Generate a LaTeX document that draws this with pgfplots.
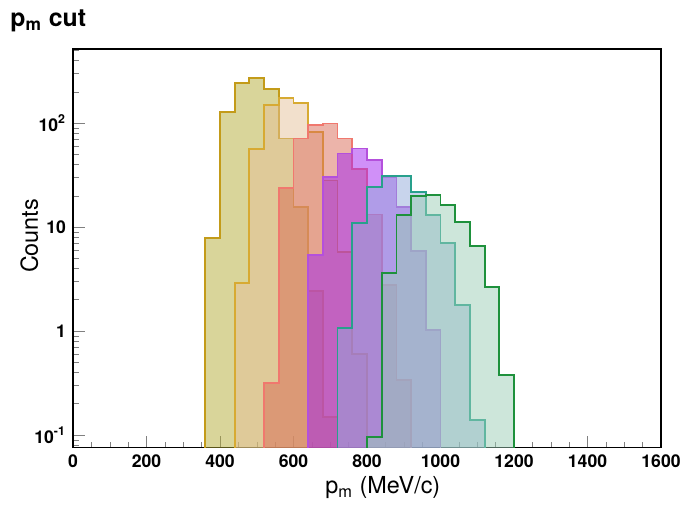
\documentclass[border=0pt]{standalone}
\usepackage{fontspec}
\setmainfont{TeX Gyre Heros}
\usepackage{pgfplots}
\pgfplotsset{compat=1.18}

% fills (drawn at 50% opacity, as in the ROOT canvas)
\definecolor{fillA}{RGB}{179,171,53}
\definecolor{fillB}{RGB}{229,193,153}
\definecolor{fillC}{RGB}{217,105,85}
\definecolor{fillD}{RGB}{161,33,241}
\definecolor{fillE}{RGB}{145,169,217}
\definecolor{fillG}{RGB}{155,205,181}
% outlines
\definecolor{lineA}{RGB}{195,155,25}
\definecolor{lineB}{RGB}{215,170,50}
\definecolor{lineC}{RGB}{240,120,110}
\definecolor{lineD}{RGB}{180,80,220}
\definecolor{lineE}{RGB}{40,160,140}
\definecolor{lineG}{RGB}{30,145,60}

\pgfplotsset{
  hist/.style 2 args={const plot mark left, mark=none, draw=#1, fill=#2,
    fill opacity=0.5, line width=0.9pt, line join=miter},
}

\begin{document}
\begin{tikzpicture}
\useasboundingbox (-36.5pt,-30.25pt) rectangle (306.5pt,223.75pt);
\begin{axis}[
  scale only axis, width=294pt, height=199.25pt,
  ymode=log,
  xmin=0, xmax=1600, ymin=0.0758, ymax=515,
  xtick={0,200,...,1600},
  xticklabels={0,200,400,600,800,1000,1200,1400,1600},
  minor x tick num=3,
  ytick={0.1,1,10,100},
  yticklabels={10\textsuperscript{-1},1,10,10\textsuperscript{2}},
  minor ytick={0.08,0.09,0.2,0.3,0.4,0.5,0.6,0.7,0.8,0.9,2,3,4,5,6,7,8,9,
    20,30,40,50,60,70,80,90,200,300,400,500},
  tick pos=left, tick align=inside,
  major tick length=6pt, minor tick length=3pt,
  ticklabel style={font=\fontsize{8.8}{10}\selectfont\bfseries},
  xlabel={p\textsubscript{m} (MeV/c)},
  ylabel={Counts},
  label style={font=\fontsize{11.7}{14}\selectfont},
  xlabel style={at={(axis description cs:0.527,0)}, anchor=base, yshift=-23.25pt},
  ylabel style={at={(axis description cs:0,0.531)}, anchor=base, yshift=17.5pt},
  axis line style={line width=0.6pt},
]

\addplot[hist={lineA}{fillA}] coordinates {
  (360,0.01) (360,7.8) (400,128) (440,244) (480,273) (520,212)
  (560,71) (600,15.5) (640,2.44) (680,0.15) (720,0.15) (720,0.01)
};
\addplot[hist={lineB}{fillB}] coordinates {
  (440,0.01) (440,2.92) (480,55.8) (520,149) (560,175) (600,157)
  (640,82) (680,28) (720,5.8) (760,0.60) (800,0.60) (800,0.01)
};
\addplot[hist={lineC}{fillC}] coordinates {
  (520,0.01) (520,0.314) (560,23.6) (600,71) (640,96) (680,99)
  (720,71) (760,36) (800,13.2) (840,2.77) (880,0.34) (920,0.34) (920,0.01)
};
\addplot[hist={lineD}{fillD}] coordinates {
  (640,0.01) (640,5.4) (680,30.5) (720,51) (760,57) (800,44)
  (840,30) (880,15.7) (920,5.9) (960,1.02) (1000,1.02) (1000,0.01)
};
\addplot[hist={lineE}{fillE}] coordinates {
  (720,0.01) (720,1.06) (760,10.9) (800,24.4) (840,31) (880,31)
  (920,21.6) (960,13.1) (1000,7.0) (1040,1.78) (1080,0.14) (1120,0.14) (1120,0.01)
};
\addplot[hist={lineG}{fillG}] coordinates {
  (800,0.01) (800,0.096) (840,3.6) (880,13.0) (920,19.8) (960,20.4)
  (1000,16.3) (1040,11.2) (1080,6.6) (1120,2.67) (1160,0.38) (1200,0.38) (1200,0.01)
};
\end{axis}
\node[anchor=base west, font=\fontsize{12.4}{14}\selectfont\bfseries, inner sep=0pt]
  at (-31.5pt,210.25pt) {p\textsubscript{m} cut};
\end{tikzpicture}
\end{document}
